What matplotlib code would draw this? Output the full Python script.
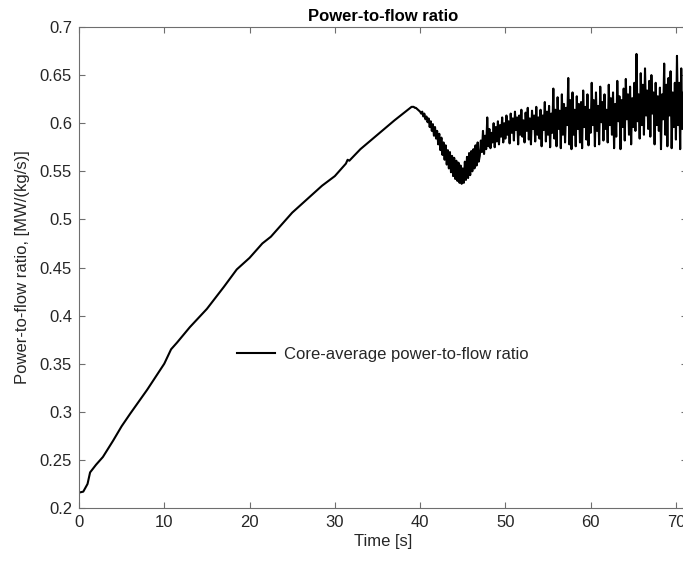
import matplotlib
matplotlib.use("Agg")
import matplotlib.pyplot as plt
import numpy as np

# ---- data ----
t_smooth = [0.0, 0.5, 1.0, 1.3, 2.0, 2.8, 4.0, 5.0, 6.0, 8.0, 10.0, 10.8, 11.5,
            13.0, 15.0, 17.0, 18.5, 20.0, 21.5, 22.5, 24.0, 25.0, 27.0, 28.5,
            30.0, 31.3, 31.5, 31.7, 33.0, 35.0, 37.0, 39.0]
v_smooth = [0.216, 0.217, 0.225, 0.237, 0.245, 0.253, 0.270, 0.285, 0.298, 0.323,
            0.350, 0.365, 0.372, 0.388, 0.407, 0.430, 0.448, 0.460, 0.475, 0.482,
            0.497, 0.507, 0.523, 0.535, 0.545, 0.558, 0.562, 0.561, 0.573, 0.588,
            0.603, 0.617]

t_osc_start = 39.25
t_osc_step = 0.125
v_osc = [
    0.617, 0.616, 0.616, 0.615, 0.614, 0.613,
    0.612, 0.610, 0.612, 0.607, 0.610, 0.604, 0.607, 0.601,
    0.605, 0.596, 0.602, 0.592, 0.599, 0.587, 0.596, 0.584,
    0.592, 0.578, 0.589, 0.572, 0.585, 0.567, 0.580, 0.562,
    0.577, 0.557, 0.572, 0.553, 0.570, 0.549, 0.566, 0.545,
    0.564, 0.542, 0.561, 0.540, 0.559, 0.538, 0.556, 0.537,
    0.553, 0.538, 0.560, 0.541, 0.565, 0.543, 0.569, 0.546,
    0.571, 0.550, 0.573, 0.553, 0.577, 0.556, 0.580, 0.560,
    0.566, 0.582, 0.570, 0.592, 0.568, 0.587, 0.573, 0.606,
    0.576, 0.594, 0.574, 0.590, 0.580, 0.600, 0.575, 0.596,
    0.581, 0.602, 0.578, 0.598, 0.586, 0.606, 0.580, 0.600,
    0.584, 0.608, 0.588, 0.602, 0.579, 0.610, 0.590, 0.605,
    0.582, 0.612, 0.593, 0.606, 0.578, 0.608, 0.588, 0.614,
    0.586, 0.603, 0.580, 0.611, 0.592, 0.616, 0.583, 0.605,
    0.578, 0.613, 0.594, 0.608, 0.581, 0.617, 0.588, 0.606,
    0.584, 0.614, 0.576, 0.608, 0.593, 0.622, 0.581, 0.612,
    0.588, 0.618, 0.575, 0.610, 0.590, 0.636, 0.584, 0.614,
    0.576, 0.627, 0.594, 0.613, 0.574, 0.630, 0.588, 0.620,
    0.580, 0.616, 0.598, 0.647, 0.578, 0.624, 0.573, 0.632,
    0.588, 0.614, 0.576, 0.628, 0.594, 0.620, 0.580, 0.622,
    0.574, 0.634, 0.596, 0.617, 0.583, 0.630, 0.577, 0.614,
    0.590, 0.642, 0.598, 0.624, 0.576, 0.632, 0.592, 0.618,
    0.578, 0.638, 0.601, 0.622, 0.582, 0.630, 0.594, 0.614,
    0.580, 0.640, 0.598, 0.626, 0.588, 0.632, 0.574, 0.620,
    0.586, 0.644, 0.602, 0.628, 0.573, 0.624, 0.596, 0.636,
    0.582, 0.646, 0.604, 0.630, 0.588, 0.638, 0.578, 0.626,
    0.596, 0.642, 0.592, 0.672, 0.602, 0.630, 0.584, 0.652,
    0.598, 0.640, 0.588, 0.657, 0.608, 0.634, 0.594, 0.644,
    0.586, 0.650, 0.610, 0.632, 0.578, 0.642, 0.598, 0.628,
    0.592, 0.637, 0.573, 0.630, 0.604, 0.662, 0.588, 0.640,
    0.576, 0.647, 0.608, 0.654, 0.574, 0.632, 0.596, 0.642,
    0.583, 0.670, 0.598, 0.642, 0.573, 0.657, 0.594, 0.632,
    0.600,
]

x_ticks = [0, 10, 20, 30, 40, 50, 60, 70]
y_ticks = [0.2, 0.25, 0.3, 0.35, 0.4, 0.45, 0.5, 0.55, 0.6, 0.65, 0.7]
y_tick_labels = ["0.2", "0.25", "0.3", "0.35", "0.4", "0.45", "0.5", "0.55",
                 "0.6", "0.65", "0.7"]

title = "Power-to-flow ratio"
xlabel = "Time [s]"
ylabel = "Power-to-flow ratio, [MW/(kg/s)]"
legend_label = "Core-average power-to-flow ratio"

# ---- build series ----
t_osc = [t_osc_start + i * t_osc_step for i in range(len(v_osc))]
t_all = t_smooth + t_osc
v_all = v_smooth + v_osc

plt.rcParams['font.family'] = ['Liberation Sans', 'DejaVu Sans']
FS = 12

fig = plt.figure(figsize=(6.83, 5.63), dpi=100)
W, H = 683, 563
left_px, right_px, top_px, bottom_px = 79, 687, 27, 508
ax = fig.add_axes([left_px / W, (H - bottom_px) / H,
                   (right_px - left_px) / W, (bottom_px - top_px) / H])

ax.plot(t_all, v_all, color='black', linewidth=1.5, label=legend_label)

ax.set_xlim(0, 71.3)
ax.set_ylim(0.2, 0.7)
ax.set_xticks(x_ticks)
ax.set_yticks(y_ticks)
ax.set_yticklabels(y_tick_labels)

spine_col = '#6e6e6e'
text_col = '#262626'
for s in ax.spines.values():
    s.set_color(spine_col)
    s.set_linewidth(0.8)
ax.tick_params(direction='in', length=4.3, width=0.8, colors=spine_col,
               labelcolor=text_col, labelsize=FS, top=True, right=True, pad=5)

ax.set_title(title, fontsize=FS, fontweight='bold', color='black', pad=4)
ax.set_xlabel(xlabel, fontsize=FS, color=text_col, labelpad=3)
ax.set_ylabel(ylabel, fontsize=FS, color=text_col, labelpad=7)

leg = ax.legend(loc='center left', bbox_to_anchor=((237 - left_px) / (right_px - left_px),
                                                    (bottom_px - 354) / (bottom_px - top_px)),
                frameon=False, fontsize=FS, handlelength=2.3, handletextpad=0.5,
                borderpad=0, borderaxespad=0)
for txt in leg.get_texts():
    txt.set_color(text_col)

fig.savefig("out.png", dpi=100)
